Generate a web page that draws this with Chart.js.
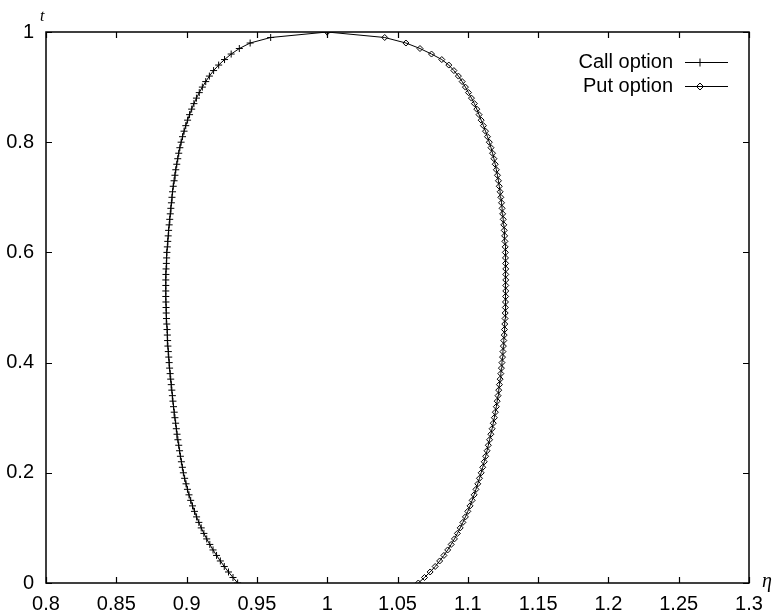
<!DOCTYPE html>
<html>
<head>
<meta charset="utf-8">
<script src="https://cdn.jsdelivr.net/npm/chart.js"></script>
<style>
  html, body { margin: 0; padding: 0; background: #fff; }
  canvas { display: block; }
</style>
</head>
<body>
<canvas id="c" width="778" height="615"></canvas>
<script>
// ---- data ----
const tValues = [
  0.00,0.01,0.02,0.03,0.04,0.05,0.06,0.07,0.08,0.09,
  0.10,0.11,0.12,0.13,0.14,0.15,0.16,0.17,0.18,0.19,
  0.20,0.21,0.22,0.23,0.24,0.25,0.26,0.27,0.28,0.29,
  0.30,0.31,0.32,0.33,0.34,0.35,0.36,0.37,0.38,0.39,
  0.40,0.41,0.42,0.43,0.44,0.45,0.46,0.47,0.48,0.49,
  0.50,0.51,0.52,0.53,0.54,0.55,0.56,0.57,0.58,0.59,
  0.60,0.61,0.62,0.63,0.64,0.65,0.66,0.67,0.68,0.69,
  0.70,0.71,0.72,0.73,0.74,0.75,0.76,0.77,0.78,0.79,
  0.80,0.81,0.82,0.83,0.84,0.85,0.86,0.87,0.88,0.89,
  0.90,0.91,0.92,0.93,0.94,0.95,0.96,0.97,0.98,0.99,
  1.00
];
const callEta = [
  0.9363,0.9330,0.9298,0.9268,0.9240,0.9213,0.9188,0.9165,0.9143,0.9123,
  0.9104,0.9087,0.9071,0.9056,0.9042,0.9029,0.9017,0.9006,0.8996,0.8986,
  0.8977,0.8970,0.8963,0.8956,0.8950,0.8944,0.8938,0.8932,0.8927,0.8922,
  0.8917,0.8912,0.8907,0.8903,0.8899,0.8895,0.8891,0.8887,0.8883,0.8879,
  0.8876,0.8873,0.8870,0.8867,0.8865,0.8863,0.8861,0.8859,0.8857,0.8855,
  0.8854,0.8853,0.8852,0.8852,0.8852,0.8852,0.8853,0.8854,0.8856,0.8858,
  0.8860,0.8863,0.8866,0.8869,0.8872,0.8876,0.8880,0.8884,0.8888,0.8892,
  0.8896,0.8900,0.8905,0.8911,0.8917,0.8923,0.8930,0.8937,0.8944,0.8952,
  0.8961,0.8971,0.8982,0.8994,0.9007,0.9021,0.9036,0.9052,0.9070,0.9090,
  0.9112,0.9136,0.9162,0.9192,0.9228,0.9270,0.9317,0.9375,0.9452,0.9598,
  1.0000
];
const putEta = [
  1.0648,1.0692,1.0732,1.0768,1.0800,1.0830,1.0857,1.0882,1.0905,1.0926,
  1.0946,1.0965,1.0983,1.1000,1.1016,1.1031,1.1045,1.1058,1.1071,1.1083,
  1.1095,1.1106,1.1117,1.1127,1.1137,1.1146,1.1155,1.1164,1.1173,1.1181,
  1.1189,1.1196,1.1203,1.1209,1.1215,1.1220,1.1225,1.1230,1.1235,1.1239,
  1.1243,1.1247,1.1250,1.1253,1.1256,1.1259,1.1261,1.1263,1.1265,1.1266,
  1.1267,1.1268,1.1269,1.1270,1.1270,1.1270,1.1270,1.1270,1.1269,1.1268,
  1.1267,1.1266,1.1264,1.1262,1.1259,1.1256,1.1252,1.1248,1.1244,1.1240,
  1.1235,1.1230,1.1224,1.1218,1.1211,1.1203,1.1195,1.1186,1.1176,1.1165,
  1.1153,1.1140,1.1126,1.1111,1.1095,1.1080,1.1064,1.1047,1.1026,1.1005,
  1.0983,1.0960,1.0933,1.0901,1.0865,1.0815,1.0742,1.0660,1.0560,1.0409,
  1.0000
];
const seriesNames = ['Call option', 'Put option'];
const xTickValues = [0.8,0.85,0.9,0.95,1,1.05,1.1,1.15,1.2,1.25,1.3];
const xTickLabels = ['0.8','0.85','0.9','0.95','1','1.05','1.1','1.15','1.2','1.25','1.3'];
const yTickValues = [0,0.2,0.4,0.6,0.8,1];
const yTickLabels = ['0','0.2','0.4','0.6','0.8','1'];
const xAxisTitle = 'η';
const yAxisTitle = 't';

// ---- chart ----
const toPoints = (xs) => xs.map((x, i) => ({ x: x, y: tValues[i] }));
const FONT = '"Liberation Sans", Arial, Helvetica, sans-serif';
const SERIF = '"Liberation Serif", "Times New Roman", serif';

const framePlugin = {
  id: 'frame',
  afterDatasetsDraw(chart) {
    const ctx = chart.ctx;
    const a = chart.chartArea;
    const xs = chart.scales.x, ys = chart.scales.y;
    const tl = 6;
    ctx.save();
    ctx.strokeStyle = '#000';
    ctx.lineWidth = 1.2;
    ctx.beginPath();
    xTickValues.forEach(v => {
      const px = Math.round(xs.getPixelForValue(v)) + 0.5;
      ctx.moveTo(px, a.bottom); ctx.lineTo(px, a.bottom - tl);
      ctx.moveTo(px, a.top); ctx.lineTo(px, a.top + tl);
    });
    yTickValues.forEach(v => {
      const py = Math.round(ys.getPixelForValue(v)) + 0.5;
      ctx.moveTo(a.left, py); ctx.lineTo(a.left + tl, py);
      ctx.moveTo(a.right, py); ctx.lineTo(a.right - tl, py);
    });
    ctx.stroke();
    ctx.lineWidth = 1.5;
    ctx.strokeRect(a.left, a.top, a.right - a.left, a.bottom - a.top);

    // axis titles
    ctx.fillStyle = '#000';
    ctx.font = 'italic 16px ' + SERIF;
    ctx.textAlign = 'left';
    ctx.textBaseline = 'alphabetic';
    ctx.fillText(yAxisTitle, a.left - 6, a.top - 11);
    ctx.font = 'italic 20px ' + SERIF;
    ctx.fillText(xAxisTitle, a.right + 13, a.bottom + 4);

    // legend
    const ds = chart.data.datasets;
    const rows = [62, 86];
    ctx.font = '20px ' + FONT;
    ctx.textAlign = 'right';
    ctx.textBaseline = 'middle';
    rows.forEach((y, i) => {
      ctx.fillStyle = '#000';
      ctx.fillText(ds[i].label, 673, y);
      ctx.strokeStyle = '#000';
      ctx.lineWidth = 1;
      ctx.beginPath();
      ctx.moveTo(685, y + 0.5); ctx.lineTo(728, y + 0.5);
      ctx.stroke();
      const cx = 700, cy = y + 0.5;
      ctx.beginPath();
      if (i === 0) {
        ctx.moveTo(cx - 4, cy); ctx.lineTo(cx + 4, cy);
        ctx.moveTo(cx, cy - 4); ctx.lineTo(cx, cy + 4);
      } else {
        ctx.moveTo(cx - 3.5, cy); ctx.lineTo(cx, cy - 3.5);
        ctx.lineTo(cx + 3.5, cy); ctx.lineTo(cx, cy + 3.5); ctx.closePath();
      }
      ctx.stroke();
    });
    ctx.restore();
  }
};

new Chart(document.getElementById('c'), {
  type: 'scatter',
  data: {
    datasets: [
      {
        label: seriesNames[0],
        data: toPoints(callEta),
        showLine: true,
        borderColor: '#000',
        borderWidth: 1,
        pointStyle: 'cross',
        pointRadius: 3.5,
        pointBorderColor: '#000',
        pointBorderWidth: 1,
        pointBackgroundColor: 'rgba(0,0,0,0)',
        tension: 0
      },
      {
        label: seriesNames[1],
        data: toPoints(putEta),
        showLine: true,
        borderColor: '#000',
        borderWidth: 1,
        pointStyle: 'rectRot',
        pointRadius: 3,
        pointBorderColor: '#000',
        pointBorderWidth: 1,
        pointBackgroundColor: 'rgba(0,0,0,0)',
        tension: 0
      }
    ]
  },
  options: {
    responsive: false,
    animation: false,
    devicePixelRatio: 1,
    layout: { padding: { left: 0, top: 32, right: 29, bottom: 0 } },
    plugins: { legend: { display: false }, tooltip: { enabled: false } },
    scales: {
      x: {
        type: 'linear', min: 0.8, max: 1.3,
        afterBuildTicks: s => { s.ticks = xTickValues.map(v => ({ value: v })); },
        afterFit: s => { s.height = 32; s.paddingLeft = 0; s.paddingRight = 0; },
        grid: { display: false, drawTicks: false },
        border: { display: false },
        ticks: {
          padding: 9, maxRotation: 0, autoSkip: false, color: '#000',
          font: { family: FONT, size: 20 },
          callback: (v, i) => xTickLabels[i]
        }
      },
      y: {
        type: 'linear', min: 0, max: 1,
        afterBuildTicks: s => { s.ticks = yTickValues.map(v => ({ value: v })); },
        afterFit: s => { s.width = 46; s.paddingTop = 0; s.paddingBottom = 0; },
        grid: { display: false, drawTicks: false },
        border: { display: false },
        ticks: {
          padding: 12, autoSkip: false, color: '#000',
          font: { family: FONT, size: 20 },
          callback: (v, i) => yTickLabels[i]
        }
      }
    }
  },
  plugins: [framePlugin]
});
</script>
</body>
</html>
